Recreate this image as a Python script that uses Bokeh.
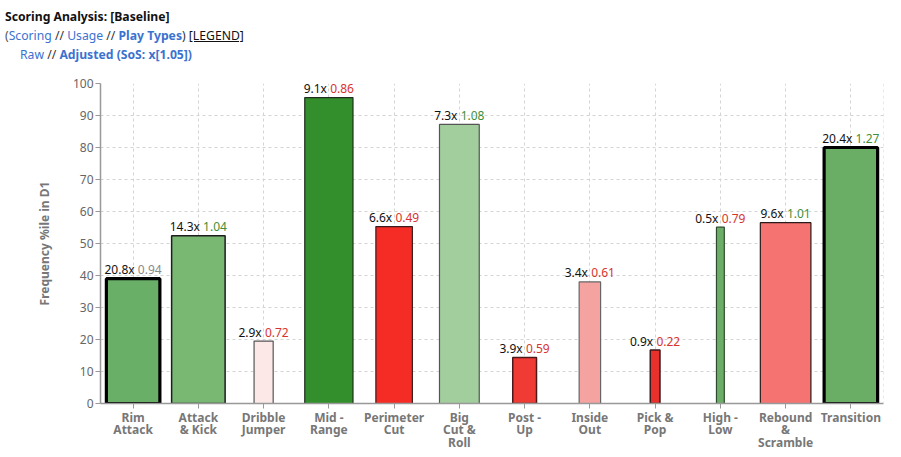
from bokeh.plotting import figure
from bokeh.models import ColumnDataSource, Div, FixedTicker, Span
from bokeh.layouts import column
from bokeh.embed import file_html
from bokeh.resources import INLINE
from bokeh.core.properties import value

# ---- data ----
categories = ["Rim\nAttack", "Attack\n& Kick", "Dribble\nJumper", "Mid -\nRange",
              "Perimeter\nCut", "Big\nCut &\nRoll", "Post -\nUp", "Inside\nOut",
              "Pick &\nPop", "High -\nLow", "Rebound\n&\nScramble", "Transition"]
freq_pctile = [39, 52.4, 19.5, 95.6, 55.3, 87.2, 14.4, 38.0, 16.7, 55.1, 56.5, 80.0]
usage_mult = [20.8, 14.3, 2.9, 9.1, 6.6, 7.3, 3.9, 3.4, 0.9, 0.5, 9.6, 20.4]
adj_ratio = [0.94, 1.04, 0.72, 0.86, 0.49, 1.08, 0.59, 0.61, 0.22, 0.79, 1.01, 1.27]
y_ticks = [0, 10, 20, 30, 40, 50, 60, 70, 80, 90, 100]

# ---- styles ----
fill_colors = ["#6aaf67", "#78b873", "#fde8e8", "#338f2b", "#f52b26", "#a2cd9d",
               "#f03a34", "#f5a3a1", "#e8302c", "#6cae67", "#f57371", "#6aae66"]
line_colors = ["#000000", "#1e1e1e", "#555555", "#1e2e1e", "#3a1a1a", "#555555",
               "#4a1a1a", "#666666", "#3a1a1a", "#2e4a2e", "#2a1a1a", "#000000"]
line_widths = [3.2, 1.5, 1.2, 1.2, 1.2, 1.2, 1.5, 1.2, 1.5, 1.2, 1.2, 3.2]
FONT = "Noto Sans"

bar_w = [min(0.82, 0.084 + 0.072 * f) for f in usage_mult]

def txt_w(s, size=12.0):
    em = {".": 0.268, "x": 0.52, " ": 0.26}
    return sum(em.get(c, 0.572) for c in s) * size

lab1 = [f"{u:.1f}x" for u in usage_mult]
lab2 = [f"{a:.2f}" for a in adj_ratio]
lab2_col = ["#3f8f3a" if a > 1.0 else ("#d8342f" if a < 0.9 else "#8a8a8a") for a in adj_ratio]
off1, off2 = [], []
for a, b in zip(lab1, lab2):
    w1, w2, sp = txt_w(a), txt_w(b), 3.2
    tot = w1 + sp + w2
    off1.append(w1 - tot / 2)
    off2.append(w1 + sp - tot / 2)

src = ColumnDataSource(dict(cat=categories, top=freq_pctile, w=bar_w, fill=fill_colors,
                            lc=line_colors, lw=line_widths, l1=lab1, l2=lab2, c2=lab2_col,
                            o1=off1, o2=off2))

header = Div(
    text=(
        '<div style="font-weight:bold;color:#111;">Scoring Analysis: [Baseline]</div>'
        '<div><span style="color:#555;">(</span><span style="color:#3b72d0;">Scoring</span>'
        '<span style="color:#333;"> // </span><span style="color:#3b72d0;">Usage</span>'
        '<span style="color:#333;"> // </span><span style="color:#3b72d0;font-weight:bold;">Play Types</span>'
        '<span style="color:#333;">) </span><span style="color:#111;text-decoration:underline;">[LEGEND]</span></div>'
        '<div style="padding-left:15px;"><span style="color:#3b72d0;">Raw</span>'
        '<span style="color:#333;"> // </span><span style="color:#3b72d0;font-weight:bold;">Adjusted (SoS: x[1.05])</span></div>'
    ),
    width=901, height=66, margin=(0, 0, 0, 0),
    styles={"font-family": FONT, "font-size": "12.2px", "line-height": "19px",
            "padding-left": "5px", "padding-top": "7px", "white-space": "nowrap"},
)

p = figure(x_range=categories, y_range=(0, 100), width=901, height=391,
           output_backend="svg", toolbar_location=None,
           min_border_left=100, min_border_right=18, min_border_top=17, min_border_bottom=54)
p.outline_line_color = None
p.background_fill_color = "white"

p.vbar(x="cat", top="top", bottom=0, width="w", source=src, fill_color="fill",
       line_color="lc", line_width="lw")

p.text(x="cat", y="top", text="l1", source=src, x_offset="o1", y_offset=-9,
       text_align="right", text_baseline="alphabetic", text_color="#111111",
       text_font=value(FONT), text_font_size="12px")
p.text(x="cat", y="top", text="l2", source=src, x_offset="o2", y_offset=-9,
       text_align="left", text_baseline="alphabetic", text_color="c2",
       text_font=value(FONT), text_font_size="12px")

for g in (p.xgrid, p.ygrid):
    g.grid_line_color = "#d4d4d4"
    g.grid_line_dash = "3 3"
    g.grid_line_width = 1
p.add_layout(Span(location=len(categories), dimension="height", line_color="#d4d4d4",
                  line_dash="3 3", line_width=1))

p.yaxis.ticker = FixedTicker(ticks=y_ticks)
p.yaxis.axis_label = "Frequency %ile in D1"
p.yaxis.axis_label_text_font = FONT
p.yaxis.axis_label_text_font_style = "bold"
p.yaxis.axis_label_text_font_size = "12px"
p.yaxis.axis_label_text_color = "#777777"
p.yaxis.axis_label_standoff = 17
p.yaxis.major_label_text_font = FONT
p.yaxis.major_label_text_font_size = "12px"
p.yaxis.major_label_text_color = "#666666"
p.yaxis.major_label_standoff = 2
p.yaxis.minor_tick_line_color = None

p.xaxis.major_label_text_font = FONT
p.xaxis.major_label_text_font_size = "12px"
p.xaxis.major_label_text_font_style = "bold"
p.xaxis.major_label_text_color = "#777777"
p.xaxis.major_label_text_line_height = 0.75
p.xaxis.major_label_standoff = 0

for ax in (p.xaxis, p.yaxis):
    ax.axis_line_color = "#999999"
    ax.axis_line_width = 1.5
    ax.major_tick_line_color = "#999999"
    ax.major_tick_in = 0
    ax.major_tick_out = 5

layout = column(header, p, spacing=0, margin=(0, 0, 0, 0))
open("out.html", "w").write(file_html(layout, INLINE))
